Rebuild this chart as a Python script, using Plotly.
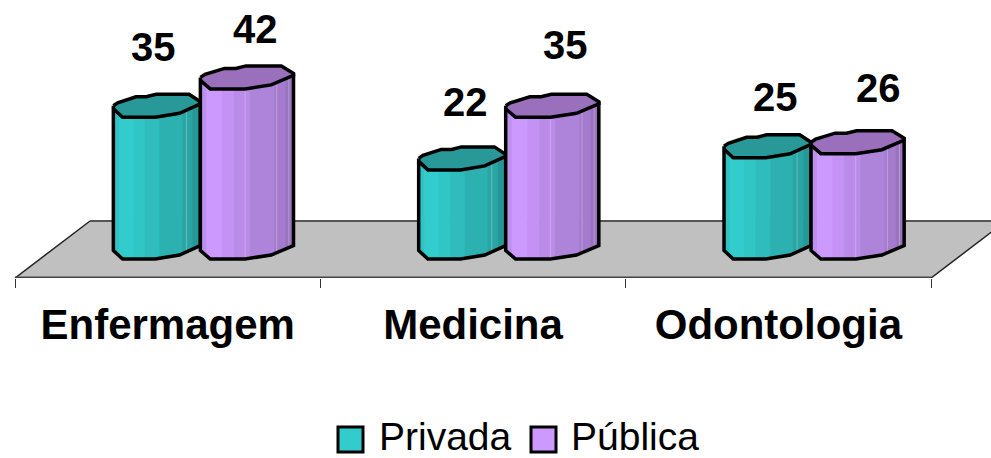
import numpy as np
import plotly.graph_objects as go

# ---- data ----
categories = ["Enfermagem", "Medicina", "Odontologia"]
privada = [35, 22, 25]
publica = [42, 35, 26]
series_names = ["Privada", "Pública"]

# ---- styling / geometry (px based helpers) ----
W, H = 991, 458
PX_PER_CAT = 305.33
CAT0_PX = 167.7
PX_PER_UNIT = 4.05
ZERO_PX = 247.5
AXIS_PX = 278
FONT = "Liberation Sans, Arial, sans-serif"
OUTLINE = 3.5

x_range = [(0 - CAT0_PX) / PX_PER_CAT, (W - CAT0_PX) / PX_PER_CAT]
y_range = [(ZERO_PX - AXIS_PX) / PX_PER_UNIT, ZERO_PX / PX_PER_UNIT]

SPANS = {"Privada": (-0.178, 0.107), "Pública": (0.107, 0.412)}

# irregular outline of the cylinder ring, offsets in px from its level line
front_u = [0.0, 0.106, 0.48, 0.76, 1.0]
front_off = [3.0, 11.5, 11.5, 7.5, -2.0]
back_u = [0.0, 0.05, 0.26, 0.38, 0.49, 0.87, 1.0]
back_off = [0.0, -3.0, -9.0, -9.0, -11.5, -11.5, -4.0]

facet_edges = [0, 0.065, 0.23, 0.36, 0.53, 0.79, 0.91, 1.0]
FACETS = {
    "Privada": ["#2FC3C3", "#33CCCC", "#31C6C6", "#2EBCBC", "#2CB0B0", "#2AA5A5", "#279898"],
    "Pública": ["#BE90EE", "#CC99FF", "#C392F4", "#BA8BE8", "#AE83DA", "#A47BCD", "#9A73BF"],
}
HIGHLIGHTS = {"Privada": [0.84], "Pública": [0.48, 0.82, 0.95]}
TOP = {"Privada": "#289898", "Pública": "#9A70BC"}
SWATCH = {"Privada": "#33CCCC", "Pública": "#CC99FF"}

LABEL_SHIFT = {
    "Privada": [(-3, 59), (3, 56), (8, 49)],
    "Pública": [(9, 48), (13, 61), (21, 54)],
}


def unit(off):
    return np.asarray(off, float) / PX_PER_UNIT


def front(u, level):
    return level - unit(np.interp(u, front_u, front_off))


fig = go.Figure()


def add_cylinder(cat_i, value, name):
    a, b = SPANS[name]
    left, right = cat_i + a, cat_i + b
    width = right - left
    # facets of the body
    for k, col in enumerate(FACETS[name]):
        u0, u1 = facet_edges[k], facet_edges[k + 1]
        us = sorted(set([u0, u1] + [u for u in front_u if u0 < u < u1]))
        xs = [left + u * width for u in us]
        pad = 0.6 / PX_PER_CAT if k < len(FACETS[name]) - 1 else 0
        xs_pad = xs[:-1] + [xs[-1] + pad]
        top = [float(front(u, value)) for u in us]
        bot = [float(front(u, 0)) for u in us]
        fig.add_trace(go.Scatter(
            x=xs_pad + xs_pad[::-1], y=top + bot[::-1],
            mode="lines", fill="toself", fillcolor=col,
            line=dict(width=0, color=col), hoverinfo="skip", showlegend=False,
            name=name))
    for u in HIGHLIGHTS[name]:
        fig.add_trace(go.Scatter(
            x=[left + u * width] * 2, y=[float(front(u, value)), float(front(u, 0))],
            mode="lines", line=dict(color="rgba(255,255,255,0.28)", width=1),
            hoverinfo="skip", showlegend=False, name=name))
    # top ellipse
    bx = [left + u * width for u in back_u]
    by = [value - float(o) for o in unit(back_off)]
    fx = [left + u * width for u in front_u]
    fy = [float(front(u, value)) for u in front_u]
    bot_y = [float(front(u, 0)) for u in front_u]
    fig.add_trace(go.Scatter(
        x=bx + fx[::-1], y=by + fy[::-1], mode="lines", fill="toself",
        fillcolor=TOP[name], line=dict(color="black", width=OUTLINE),
        hoverinfo="skip", showlegend=False, name=name))
    # silhouette
    fig.add_trace(go.Scatter(
        x=[left] + fx + [right],
        y=[value - float(unit(back_off[0]))] + bot_y + [by[-1]],
        mode="lines", line=dict(color="black", width=OUTLINE),
        hoverinfo="skip", showlegend=False, name=name))


series = {"Privada": privada, "Pública": publica}
for i in range(len(categories)):
    for nm in series_names:
        add_cylinder(i, series[nm][i], nm)

annotations = []
for nm in series_names:
    a, b = SPANS[nm]
    for i, v in enumerate(series[nm]):
        dx, dy = LABEL_SHIFT[nm][i]
        annotations.append(dict(
            x=i + (a + b) / 2, y=v, xref="x", yref="y", text=f"<b>{v}</b>", showarrow=False,
            xshift=dx, yshift=dy, font=dict(family=FONT, size=40, color="black"),
            xanchor="center", yanchor="middle"))

# manual legend (swatch size of the original exceeds plotly's legend swatch)
legend_items = [("Privada", 338, 377), ("Pública", 531, 569)]
shapes = []
for nm, sx, tx in legend_items:
    shapes.append(dict(type="rect", xref="paper", yref="paper",
                       x0=sx / W, x1=(sx + 25) / W,
                       y0=-(452 - AXIS_PX) / AXIS_PX, y1=-(427 - AXIS_PX) / AXIS_PX,
                       fillcolor=SWATCH[nm], line=dict(color="black", width=3)))
    annotations.append(dict(x=tx / W, y=-(436 - AXIS_PX) / AXIS_PX, xref="paper", yref="paper",
                            text=nm, showarrow=False, xanchor="left", yanchor="middle",
                            font=dict(family=FONT, size=39, color="black")))

# floor
fl = -0.5
fr = 2.5
back_y = (ZERO_PX - 221) / PX_PER_UNIT
front_y = y_range[0]
depth = 75 / PX_PER_CAT
shapes.insert(0, dict(type="path", xref="x", yref="y", layer="below",
                      path=f"M {fl} {front_y} L {fl + depth} {back_y} L {fr + depth} {back_y} L {fr} {front_y} Z",
                      fillcolor="#C0C0C0", line=dict(width=0)))
for x0, y0, x1, y1, col, w in [
    (fl + depth, back_y, fr + depth, back_y, "#555555", 2),
    (fl, front_y, fr, front_y, "#444444", 3),
    (fl, front_y, fl + depth, back_y, "#222222", 1.5),
    (fr, front_y, fr + depth, back_y, "#222222", 1.5),
]:
    shapes.insert(1, dict(type="line", xref="x", yref="y", layer="below",
                          x0=x0, y0=y0, x1=x1, y1=y1, line=dict(color=col, width=w)))

fig.update_layout(
    width=W, height=H, paper_bgcolor="white", plot_bgcolor="rgba(0,0,0,0)",
    margin=dict(l=0, r=0, t=0, b=H - AXIS_PX, autoexpand=False),
    showlegend=False, shapes=shapes, annotations=annotations,
    xaxis=dict(range=x_range, tickmode="array", tickvals=list(range(len(categories))),
               ticktext=[f"<b>{c}</b>" for c in categories],
               tickfont=dict(family=FONT, size=42, color="black"),
               ticks="outside", ticklen=10, tickcolor="rgba(0,0,0,0)",
               showgrid=False, zeroline=False, showline=False, fixedrange=True,
               minor=dict(tickmode="array", tickvals=[-0.5, 0.5, 1.5, 2.5], ticks="outside",
                          ticklen=9, tickwidth=1, tickcolor="#333333", showgrid=False)),
    yaxis=dict(range=y_range, visible=False, fixedrange=True),
)
fig.write_html("out.html", config=dict(displayModeBar=False),
               post_script="document.body.style.margin='0';document.body.style.overflow='hidden';")
